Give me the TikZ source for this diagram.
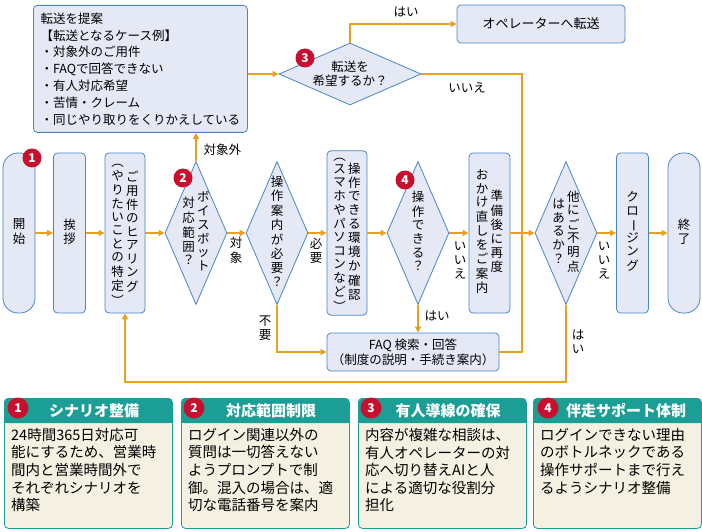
\documentclass[tikz,border=0pt]{standalone}
\usepackage{fontspec}
\setmainfont{Noto Sans CJK JP}
\usetikzlibrary{arrows.meta,shapes.geometric,positioning}
\definecolor{boxfill}{HTML}{E4E9F5}
\definecolor{boxline}{HTML}{4A86C5}
\definecolor{flowline}{HTML}{E8A020}
\definecolor{cardhead}{HTML}{1A9E96}
\definecolor{cardbody}{HTML}{F4F0E2}
\definecolor{badgered}{HTML}{C8102E}
\newcommand\vc[1]{\begin{tabular}{@{}c@{}}#1\end{tabular}}
\newcommand\vbar{\rotatebox[origin=c]{-90}{ー}}
\tikzset{
    task/.style = {
        draw=boxline,
        fill=boxfill,
        line width=0.8pt,
        rounded corners=4pt,
        minimum width=32pt,
        minimum height=160pt,
        inner sep=0pt,
        font=\fontsize{12.5}{13.3}\selectfont,
        },
    terminal/.style = {
        task,
        rounded corners=15pt,
        },
    decision/.style = {
        diamond,
        draw=boxline,
        fill=boxfill,
        line width=0.8pt,
        minimum width=62pt,
        minimum height=143pt,
        inner sep=0pt,
        },
    in diamond/.style = {
        font=\fontsize{12.5}{13.5}\selectfont,
        align=center,
        },
    flow/.style = {
        draw=flowline,
        line width=1.2pt,
        -{Triangle[length=6pt,width=6pt]},
        },
    flow line/.style = {
        draw=flowline,
        line width=1.2pt,
        },
    tag/.style = {
        font=\fontsize{12.5}{14}\selectfont,
        },
    badge/.style = {
        circle,
        fill=badgered,
        text=white,
        font=\bfseries\fontsize{12}{12}\selectfont,
        inner sep=0pt,
        minimum size=19pt,
        },
    card/.style = {
        draw=cardhead,
        fill=cardbody,
        line width=0.8pt,
        rounded corners=4pt,
        minimum width=168pt,
        minimum height=130pt,
        anchor=north west,
        },
    card head/.style = {
        fill=cardhead,
        rounded corners=4pt,
        minimum width=168pt,
        minimum height=25pt,
        anchor=north west,
        text=white,
        font=\bfseries\fontsize{15}{16}\selectfont,
        },
    card text/.style = {
        anchor=north west,
        align=left,
        inner sep=0pt,
        font=\fontsize{14.5}{17.6}\selectfont,
        },
}
\begin{document}
\begin{tikzpicture}[x=1pt,y=-1pt]
    \useasboundingbox (0,0) rectangle (702,532);

    % main row
    \node[terminal] (start) at (19,233) {\vc{開\\始}};
    \node[task] (greet) at (69.5,233) {\vc{挨\\拶}};
    \node[task, minimum width=40pt] (hear) at (125,233)
        {\vc{︵\\や\\り\\た\\い\\こ\\と\\の\\特\\定\\︶}\,\vc{ご\\用\\件\\の\\ヒ\\ア\\リ\\ン\\グ}};
    \node[decision, label={[in diamond]center:\vc{対\\応\\範\\囲\\？}\,\vc{ボ\\イ\\ス\\ボ\\ッ\\ト}}] (bot) at (196,233) {};
    \node[decision, label={[in diamond]center:\vc{操\\作\\案\\内\\が\\必\\要\\？}}] (need) at (277,233) {};
    \node[task, minimum width=40pt] (env) at (347,233)
        {\vc{︵\\ス\\マ\\ホ\\や\\パ\\ソ\\コ\\ン\\な\\ど\\︶}\,\vc{操\\作\\で\\き\\る\\環\\境\\か\\確\\認}};
    \node[decision, label={[in diamond]center:\vc{操\\作\\で\\き\\る\\？}}] (ok) at (418,233) {};
    \node[task, minimum width=41pt] (ready) at (489.5,233)
        {\vc{お\\か\\け\\直\\し\\を\\ご\\案\\内}\,\vc{準\\備\\後\\に\\再\\度}};
    \node[decision, label={[in diamond]center:\vc{は\\あ\\る\\か\\？}\,\vc{他\\に\\ご\\不\\明\\点}}] (more) at (566,233) {};
    \node[task] (close) at (632.5,233) {\vc{ク\\ロ\\\vbar\\ジ\\ン\\グ}};
    \node[terminal] (end) at (684,233) {\vc{終\\了}};

    % upper part
    \node[task, anchor=north west, minimum width=214pt, minimum height=127pt, align=left,
        inner sep=6pt, font=\fontsize{12.5}{16.8}\selectfont] (offer) at (33,5)
        {転送を提案\\【転送となるケース例】\\・対象外のご用件\\・FAQで回答できない\\・有人対応希望\\・苦情・クレーム\\・同じやり取りをくりかえしている};
    \node[decision, minimum width=142pt, minimum height=62pt,
        label={[in diamond]center:転送を\\希望するか？}] (ask) at (350,74) {};
    \node[task, minimum width=168pt, minimum height=38pt, font=\fontsize{13}{14}\selectfont] (op) at (541,24) {オペレーターへ転送};
    \node[task, minimum width=172pt, minimum height=38pt, align=center, font=\fontsize{12.5}{15}\selectfont] (faq) at (413,352)
        {FAQ 検索・回答\\（制度の説明・手続き案内）};

    \coordinate (join) at (522,233);
    \coordinate (back) at (566,382);

    \draw[flow] (start) -- (greet);
    \draw[flow] (greet) -- (hear);
    \draw[flow] (hear) -- (bot);
    \draw[flow] (bot) -- (need);
    \draw[flow] (need) -- (env);
    \draw[flow] (env) -- (ok);
    \draw[flow] (ok) -- (ready);
    \draw[flow] (ready) -- (more);
    \draw[flow] (more) -- (close);
    \draw[flow] (close) -- (end);
    \draw[flow] (bot.north) -- (bot.north |- offer.south);
    \draw[flow] (offer.east |- ask.west) -- (ask.west);
    \draw[flow] (ask.north) |- (op.west);
    \draw[flow line] (ask.east) -| (join);
    \draw[flow line] (faq.east) -| (join);
    \draw[flow] (ok.south) -- (ok.south |- faq.north);
    \draw[flow] (need.south) |- (faq.west);
    \draw[flow] (more.south) -- (back) -| (hear.south);

    % connector labels
    \node[tag, anchor=west] (l-out) at (200,150) {対象外};
    \node[tag] (l-in) at (236,252) {\vc{対\\象}};
    \node[tag] (l-need) at (316,252) {\vc{必\\要}};
    \node[tag] (l-no1) at (460,262) {\vc{い\\い\\え}};
    \node[tag] (l-no2) at (604,262) {\vc{い\\い\\え}};
    \node[tag] (l-yes1) at (437,316) {はい};
    \node[tag] (l-skip) at (265,330) {\vc{不\\要}};
    \node[tag] (l-yes2) at (578,344) {\vc{は\\い}};
    \node[tag] (l-yes3) at (406,12) {はい};
    \node[tag] (l-no3) at (467,88) {いいえ};

    % badges
    \node[badge] (b1) at (32,158) {1};
    \node[badge] (b2) at (183,178) {2};
    \node[badge] (b3) at (305,58) {3};
    \node[badge] (b4) at (405,180) {4};

    % cards
    \node[card] (card1) at (4,398) {};
    \node[card head] (head1) at (4,398) {\hspace*{12pt}シナリオ整備};
    \node[card] (card2) at (181,398) {};
    \node[card head] (head2) at (181,398) {\hspace*{12pt}対応範囲制限};
    \node[card] (card3) at (358,398) {};
    \node[card head] (head3) at (358,398) {\hspace*{12pt}有人導線の確保};
    \node[card] (card4) at (533,398) {};
    \node[card head] (head4) at (533,398) {\hspace*{18pt}伴走サポート体制};
    \foreach \c in {head1,head2,head3,head4}
        \fill[cardhead] (\c.south west) rectangle ([yshift=5pt]\c.south east);
    \node[badge, minimum size=21pt] (cb1) at (18,408) {1};
    \node[badge, minimum size=21pt] (cb2) at (194,408) {2};
    \node[badge, minimum size=21pt] (cb3) at (371,408) {3};
    \node[badge, minimum size=21pt] (cb4) at (548,408) {4};

    \node[card text] (t1) at (11,428) {24時間365日対応可\\能にするため、営業時\\間内と営業時間外で\\それぞれシナリオを\\構築};
    \node[card text] (t2) at (188,428) {ログイン関連以外の\\質問は一切答えない\\ようプロンプトで制\\御。混入の場合は、適\\切な電話番号を案内};
    \node[card text] (t3) at (365,428) {内容が複雑な相談は、\\有人オペレーターの対\\応へ切り替えAIと人\\による適切な役割分\\担化};
    \node[card text] (t4) at (540,428) {ログインできない理由\\のボトルネックである\\操作サポートまで行え\\るようシナリオ整備};
\end{tikzpicture}
\end{document}
